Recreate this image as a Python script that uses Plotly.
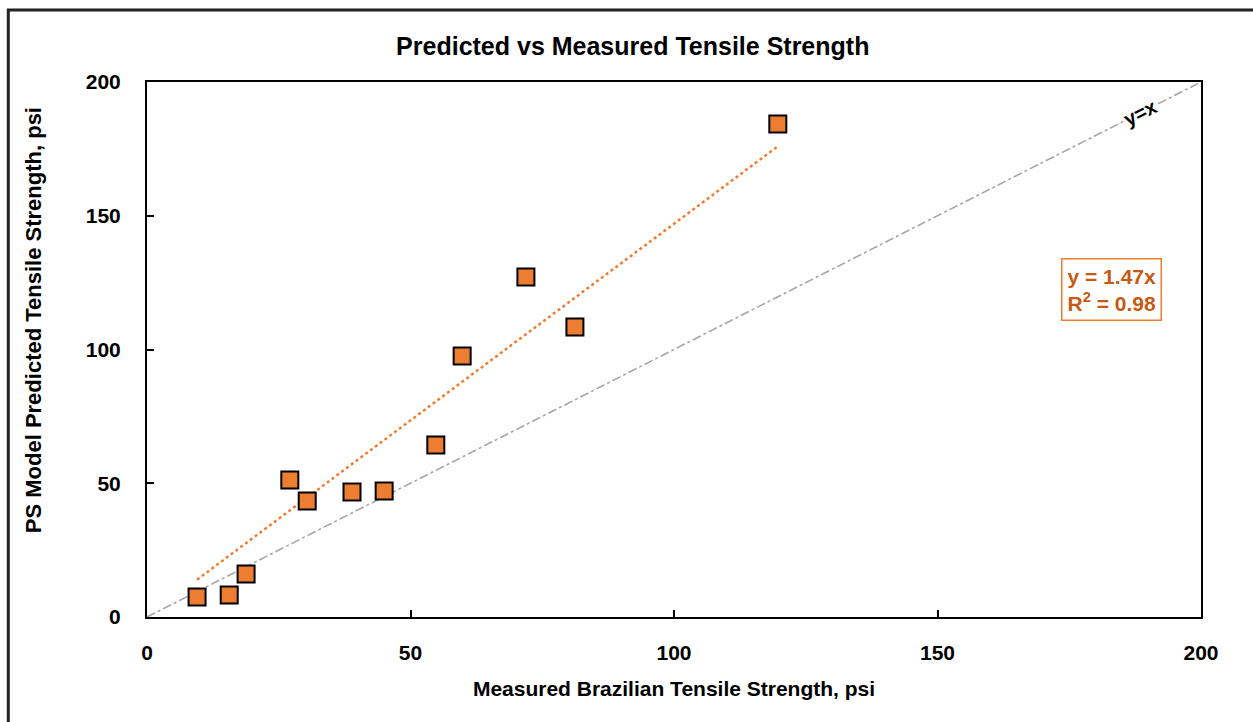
import plotly.graph_objects as go

measured = [9.5, 15.6, 18.8, 27.1, 30.4, 38.9, 45.0, 54.8, 59.8, 71.9, 81.2, 119.7]
predicted = [7.5, 8.2, 16.1, 51.2, 43.4, 46.7, 47.1, 64.3, 97.6, 127.1, 108.4, 184.3]
trend_slope = 1.47
r_squared = 0.98
axis_range = [0, 200]
tick_vals = [0, 50, 100, 150, 200]

orange = "#ED7D31"
dark_orange = "#C55A11"
narrow = "Liberation Sans Narrow, Arial Narrow, Liberation Sans, Arial, sans-serif"
arial = "Liberation Sans, Arial, sans-serif"

fig = go.Figure()

# y = x reference line
fig.add_trace(go.Scatter(
    x=axis_range, y=axis_range, mode="lines",
    line=dict(color="#A6A6A6", width=1.6, dash="dashdot"),
    showlegend=False, hoverinfo="skip"))

# trend line
tx = [min(measured), max(measured)]
fig.add_trace(go.Scatter(
    x=tx, y=[trend_slope * v for v in tx], mode="lines",
    line=dict(color=orange, width=2.5, dash="dot"),
    showlegend=False, hoverinfo="skip"))

# data points
fig.add_trace(go.Scatter(
    x=measured, y=predicted, mode="markers",
    marker=dict(symbol="square", size=17, color=orange,
                line=dict(color="black", width=2)),
    showlegend=False))

fig.update_layout(
    width=1253, height=722,
    margin=dict(l=147, r=52, t=82, b=105),
    paper_bgcolor="white", plot_bgcolor="white",
    title=dict(text="<b>Predicted vs Measured Tensile Strength</b>",
               x=0.505, xanchor="center", y=0.936, yanchor="middle",
               font=dict(family=narrow, size=25, color="black")),
    xaxis=dict(range=axis_range, tickvals=tick_vals,
               showline=True, linecolor="black", linewidth=2, mirror=True,
               showgrid=False, zeroline=False,
               ticks="inside", ticklen=7, tickwidth=1.5, tickcolor="black",
               ticklabelstandoff=16,
               tickfont=dict(family=arial, size=21, color="black", weight="bold"),
               title=dict(text="<b>Measured Brazilian Tensile Strength, psi</b>",
                          font=dict(family=narrow, size=21, color="black"),
                          standoff=18)),
    yaxis=dict(range=axis_range, tickvals=tick_vals,
               showline=True, linecolor="black", linewidth=2, mirror=True,
               showgrid=False, zeroline=False,
               ticks="inside", ticklen=7, tickwidth=1.5, tickcolor="black",
               ticklabelstandoff=20,
               tickfont=dict(family=arial, size=21, color="black", weight="bold")),
)

# y-axis title (placed as annotation to match the reference offset)
fig.add_annotation(
    x=-0.108, y=0.555, xref="paper", yref="paper",
    xanchor="center", yanchor="middle",
    text="<b>PS Model Predicted Tensile Strength, psi</b>",
    showarrow=False, textangle=-90,
    font=dict(family=arial, size=22, color="black"))

# equation box
fig.add_annotation(
    x=0.915, y=0.613, xref="paper", yref="paper",
    xanchor="center", yanchor="middle",
    text=f"<b>y = {trend_slope}x<br>R<sup>2</sup> = {r_squared}</b>",
    showarrow=False, align="left",
    font=dict(family=narrow, size=21, color=dark_orange),
    bordercolor=orange, borderwidth=1.5, borderpad=5, bgcolor="white")

# y = x label
fig.add_annotation(
    x=188.4, y=188.6, xref="x", yref="y",
    text="<b>y=x</b>", showarrow=False, textangle=-27,
    font=dict(family=arial, size=20, color="black"),
    bgcolor="white", borderpad=0)

# outer frame (cut off at right and bottom)
fig.add_shape(type="rect", xref="paper", yref="paper",
              x0=-0.1316, y0=-0.20, x1=1.2, y1=1.1346,
              line=dict(color="#222222", width=3), layer="below")

fig.write_html("out.html")
